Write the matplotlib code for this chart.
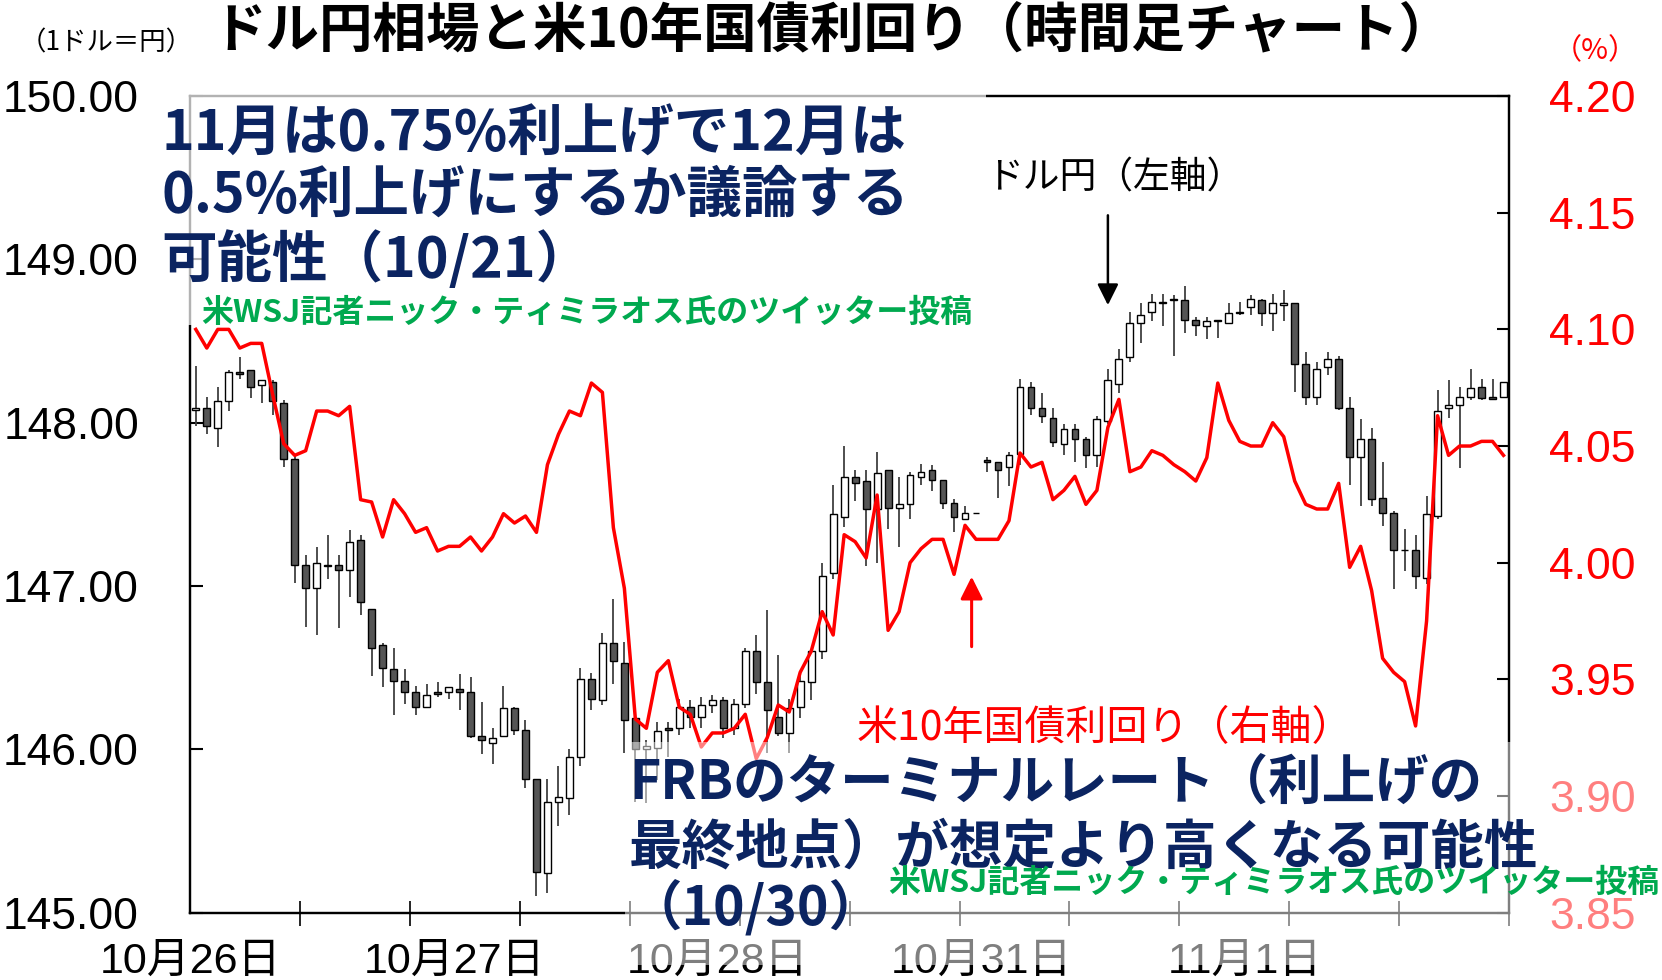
import numpy as np
import matplotlib
matplotlib.use('Agg')
import matplotlib.pyplot as plt
from matplotlib.patches import Rectangle

plt.rcParams['font.family'] = ['Liberation Sans', 'Noto Sans CJK JP']
JP = ['Noto Sans CJK JP', 'DejaVu Sans']

# hourly USD/JPY candles, 10/26 .. 11/1 (24 per day)
opens = [148.08, 148.09, 147.97, 148.13, 148.31, 148.32, 148.23, 148.25, 148.12, 147.78,
         147.13, 146.99, 147.13, 147.13, 147.10, 147.28, 146.86, 146.64, 146.49, 146.42,
         146.35, 146.26, 146.35, 146.35, 146.37, 146.35, 146.08, 146.04, 146.08, 146.25,
         146.12, 145.82, 145.24, 145.68, 145.70, 145.95, 146.43, 146.30, 146.65, 146.53,
         146.19, 146.00, 146.01, 146.13, 146.13, 146.26, 146.20, 146.27, 146.30, 146.13,
         146.28, 146.60, 146.41, 146.20, 146.10, 146.26, 146.41, 146.60, 147.08, 147.42,
         147.67, 147.64, 147.47, 147.71, 147.48, 147.50, 147.67, 147.71, 147.65, 147.51,
         147.41, 147.45, 147.77, 147.76, 147.73, 147.81, 148.22, 148.09, 148.03, 147.87,
         147.96, 147.90, 147.80, 148.01, 148.24, 148.40, 148.61, 148.68, 148.73, 148.75,
         148.75, 148.63, 148.59, 148.63, 148.61, 148.68, 148.71, 148.75, 148.67, 148.72,
         148.73, 148.36, 148.16, 148.34, 148.39, 148.09, 147.79, 147.90, 147.54, 147.45,
         147.22, 147.22, 147.05, 147.43, 148.09, 148.11, 148.16, 148.22, 148.155, 148.16]
highs = [148.35, 148.16, 148.22, 148.32, 148.40, 148.32, 148.26, 148.26, 148.14, 147.80,
         147.19, 147.24, 147.31, 147.19, 147.34, 147.31, 146.86, 146.65, 146.62, 146.49,
         146.39, 146.40, 146.41, 146.38, 146.46, 146.44, 146.29, 146.13, 146.39, 146.26,
         146.18, 145.82, 145.82, 145.90, 146.00, 146.50, 146.47, 146.71, 146.92, 146.66,
         146.19, 146.06, 146.17, 146.17, 146.31, 146.30, 146.32, 146.33, 146.32, 146.31,
         146.62, 146.70, 146.85, 146.58, 146.31, 146.45, 146.60, 147.14, 147.62, 147.86,
         147.71, 147.71, 147.82, 147.71, 147.67, 147.70, 147.75, 147.74, 147.65, 147.53,
         147.49, 147.45, 147.79, 147.76, 147.82, 148.27, 148.25, 148.18, 148.09, 147.99,
         147.99, 147.91, 148.04, 148.33, 148.45, 148.68, 148.73, 148.79, 148.79, 148.78,
         148.84, 148.65, 148.65, 148.63, 148.73, 148.74, 148.78, 148.76, 148.79, 148.81,
         148.73, 148.43, 148.37, 148.43, 148.41, 148.16, 148.02, 147.97, 147.76, 147.46,
         147.35, 147.31, 147.55, 148.20, 148.26, 148.22, 148.33, 148.27, 148.27, 148.25]
lows = [147.98, 147.93, 147.85, 148.07, 148.27, 148.15, 148.12, 148.05, 147.73, 147.02,
        146.75, 146.70, 147.04, 146.74, 146.93, 146.82, 146.45, 146.38, 146.21, 146.28,
        146.21, 146.25, 146.32, 146.31, 146.24, 146.07, 145.97, 145.91, 146.08, 146.09,
        145.76, 145.10, 145.12, 145.53, 145.60, 145.90, 146.24, 146.27, 146.40, 145.98,
        145.68, 145.67, 145.81, 145.95, 146.09, 146.13, 146.13, 146.22, 146.07, 146.09,
        146.25, 146.34, 145.98, 146.08, 145.98, 146.19, 146.30, 146.55, 147.04, 147.36,
        147.52, 147.12, 147.14, 147.35, 147.24, 147.41, 147.62, 147.58, 147.47, 147.33,
        147.41, 147.45, 147.70, 147.54, 147.61, 147.74, 148.05, 148.00, 147.85, 147.80,
        147.76, 147.72, 147.73, 147.99, 148.18, 148.37, 148.49, 148.62, 148.59, 148.41,
        148.55, 148.53, 148.51, 148.52, 148.61, 148.66, 148.66, 148.59, 148.56, 148.62,
        148.19, 148.11, 148.11, 148.29, 148.08, 147.62, 147.49, 147.49, 147.37, 146.98,
        147.09, 146.98, 147.01, 147.41, 148.03, 147.72, 148.14, 148.14, 148.14, 148.16]
closes = [148.09, 147.98, 148.13, 148.31, 148.30, 148.22, 148.26, 148.13, 147.78, 147.13,
          146.99, 147.14, 147.12, 147.10, 147.27, 146.90, 146.62, 146.50, 146.42, 146.35,
          146.26, 146.33, 146.34, 146.38, 146.35, 146.08, 146.06, 146.07, 146.25, 146.12,
          145.82, 145.25, 145.68, 145.71, 145.95, 146.43, 146.31, 146.65, 146.54, 146.18,
          146.00, 146.02, 146.11, 146.12, 146.26, 146.20, 146.27, 146.30, 146.13, 146.28,
          146.60, 146.41, 146.24, 146.10, 146.25, 146.42, 146.60, 147.06, 147.44, 147.67,
          147.63, 147.47, 147.69, 147.48, 147.50, 147.68, 147.70, 147.65, 147.51, 147.42,
          147.45, 147.45, 147.76, 147.71, 147.80, 148.22, 148.09, 148.04, 147.88, 147.96,
          147.90, 147.80, 148.02, 148.26, 148.39, 148.61, 148.66, 148.74, 148.74, 148.76,
          148.63, 148.60, 148.62, 148.62, 148.67, 148.67, 148.76, 148.67, 148.73, 148.73,
          148.36, 148.16, 148.33, 148.39, 148.09, 147.79, 147.90, 147.53, 147.45, 147.22,
          147.22, 147.06, 147.44, 148.07, 148.11, 148.16, 148.21, 148.15, 148.145, 148.25]

# US 10y treasury yield (%), same hours
yields = [4.100, 4.092, 4.100, 4.100, 4.092, 4.094, 4.094, 4.072, 4.051, 4.046,
          4.048, 4.065, 4.065, 4.063, 4.067, 4.027, 4.026, 4.011, 4.027, 4.021,
          4.013, 4.015, 4.005, 4.007, 4.007, 4.011, 4.005, 4.011, 4.021, 4.017,
          4.020, 4.013, 4.042, 4.055, 4.065, 4.063, 4.077, 4.073, 4.015, 3.989,
          3.933, 3.929, 3.953, 3.958, 3.938, 3.935, 3.921, 3.927, 3.927, 3.929,
          3.935, 3.916, 3.925, 3.939, 3.936, 3.953, 3.962, 3.979, 3.969, 4.012,
          4.009, 4.002, 4.029, 3.971, 3.979, 4.000, 4.006, 4.010, 4.010, 3.995,
          4.016, 4.010, 4.010, 4.010, 4.018, 4.047, 4.041, 4.043, 4.027, 4.031,
          4.037, 4.025, 4.031, 4.058, 4.070, 4.039, 4.041, 4.048, 4.046, 4.042,
          4.039, 4.035, 4.045, 4.077, 4.061, 4.052, 4.050, 4.050, 4.060, 4.054,
          4.035, 4.025, 4.023, 4.023, 4.034, 3.998, 4.007, 3.988, 3.959, 3.953,
          3.949, 3.930, 3.975, 4.063, 4.046, 4.050, 4.050, 4.052, 4.052, 4.046]

day_labels = ['10月26日', '10月27日', '10月28日', '10月31日', '11月1日']
yen_ticks = [145, 146, 147, 148, 149, 150]
yield_ticks = [3.85, 3.90, 3.95, 4.00, 4.05, 4.10, 4.15, 4.20]

W, H = 1662, 980


def fx(px):
    return px / W


def fy(py):
    return 1 - py / H


fig = plt.figure(figsize=(W / 100, H / 100), dpi=100)
ax = fig.add_axes([fx(190.3), fy(912.6), (1509 - 190.3) / W, (912.6 - 96.1) / H])
ax2 = ax.twinx()

# candles
x = np.arange(len(opens))
o = np.array(opens)
c = np.array(closes)
body_col = np.where(c >= o, 'white', '#555555')
ax.vlines(x, lows, highs, color='#404040', lw=1.3, zorder=2)
ax.bar(x, c - o, bottom=o, width=0.62, color=body_col, edgecolor='black', lw=1.0, zorder=3)

# yield line
ax2.plot(x, yields, color='red', lw=2.5)

ax.set_xlim(-0.5, len(opens) - 0.5)
ax.set_ylim(145, 150)
ax.set_yticks(yen_ticks)
ax.set_yticklabels([f'{v:.2f}' for v in yen_ticks])
ax2.set_ylim(3.85, 4.20)
ax2.set_yticks(yield_ticks)
ax2.set_yticklabels([f'{v:.2f}' for v in yield_ticks])

ax.set_xticks(np.arange(len(day_labels)) * 24 - 0.5)
ax.set_xticklabels(day_labels)
ax.set_xticks(np.arange(0, len(opens) + 1, 10) - 0.5, minor=True)
ax.tick_params(axis='x', which='major', length=0, pad=21, labelsize=31)
ax.tick_params(axis='x', which='minor', direction='inout', length=18, width=1.2)
ax.tick_params(axis='y', direction='in', length=9, width=1.5, labelsize=32, pad=37)
ax2.tick_params(axis='y', direction='in', length=9, width=1.5, labelsize=32, pad=29,
                labelcolor='red')
for a in (ax, ax2):
    for s in a.spines.values():
        s.set_linewidth(1.6)
        s.set_color('black')

# arrows
ax.annotate('', xy=(83, 148.72), xytext=(83, 149.27),
            arrowprops=dict(arrowstyle='-|>', color='black', lw=1.8,
                            mutation_scale=32, shrinkA=0, shrinkB=0))
ax2.annotate('', xy=(70.6, 3.994), xytext=(70.6, 3.964),
             arrowprops=dict(arrowstyle='-|>', color='red', lw=2.2,
                             mutation_scale=34, shrinkA=0, shrinkB=0))

# half transparent note boxes
fig.add_artist(Rectangle((fx(150), fy(325)), (986 - 150) / W, (325 - 90) / H,
                         transform=fig.transFigure, fc='white', ec='none', alpha=0.7, zorder=5))
fig.add_artist(Rectangle((fx(625), fy(965)), (W - 625) / W, (965 - 742) / H,
                         transform=fig.transFigure, fc='white', ec='none', alpha=0.5, zorder=5))

navy = '#0B2461'
green = '#00A94F'

fig.text(fx(832), fy(32), 'ドル円相場と米10年国債利回り（時間足チャート）', ha='center', va='center',
         fontsize=38.5, fontweight='bold', family=JP, zorder=6)
fig.text(fx(20), fy(43), '（1ドル＝円）', ha='left', va='center', fontsize=19, family=JP, zorder=6)
fig.text(fx(1595), fy(51), '（%）', ha='center', va='center', fontsize=21, color='red',
         family=JP, zorder=6)

note1 = ['11月は0.75%利上げで12月は', '0.5%利上げにするか議論する', '可能性（10/21）']
for line, yy in zip(note1, [135, 196, 260]):
    fig.text(fx(161), fy(yy), line, ha='left', va='center', fontsize=40, fontweight='bold',
             color=navy, family=JP, zorder=6)
fig.text(fx(201), fy(313), '米WSJ記者ニック・ティミラオス氏のツイッター投稿', ha='left', va='center',
         fontsize=23, fontweight='bold', color=green, family=JP, zorder=6)

note2 = ['FRBのターミナルレート（利上げの', '最終地点）が想定より高くなる可能性', '（10/30）']
for line, yy in zip(note2, [784, 848, 909]):
    fig.text(fx(629), fy(yy), line, ha='left', va='center', fontsize=38.5, fontweight='bold',
             color=navy, family=JP, zorder=6)
fig.text(fx(888), fy(883), '米WSJ記者ニック・ティミラオス氏のツイッター投稿', ha='left', va='center',
         fontsize=23, fontweight='bold', color=green, family=JP, zorder=7)

fig.text(fx(986), fy(178), 'ドル円（左軸）', ha='left', va='center', fontsize=26.5,
         family=JP, zorder=6)
fig.text(fx(857), fy(729), '米10年国債利回り（右軸）', ha='left', va='center', fontsize=29.5,
         color='red', family=JP, zorder=6)

fig.savefig('out.png', dpi=100)
